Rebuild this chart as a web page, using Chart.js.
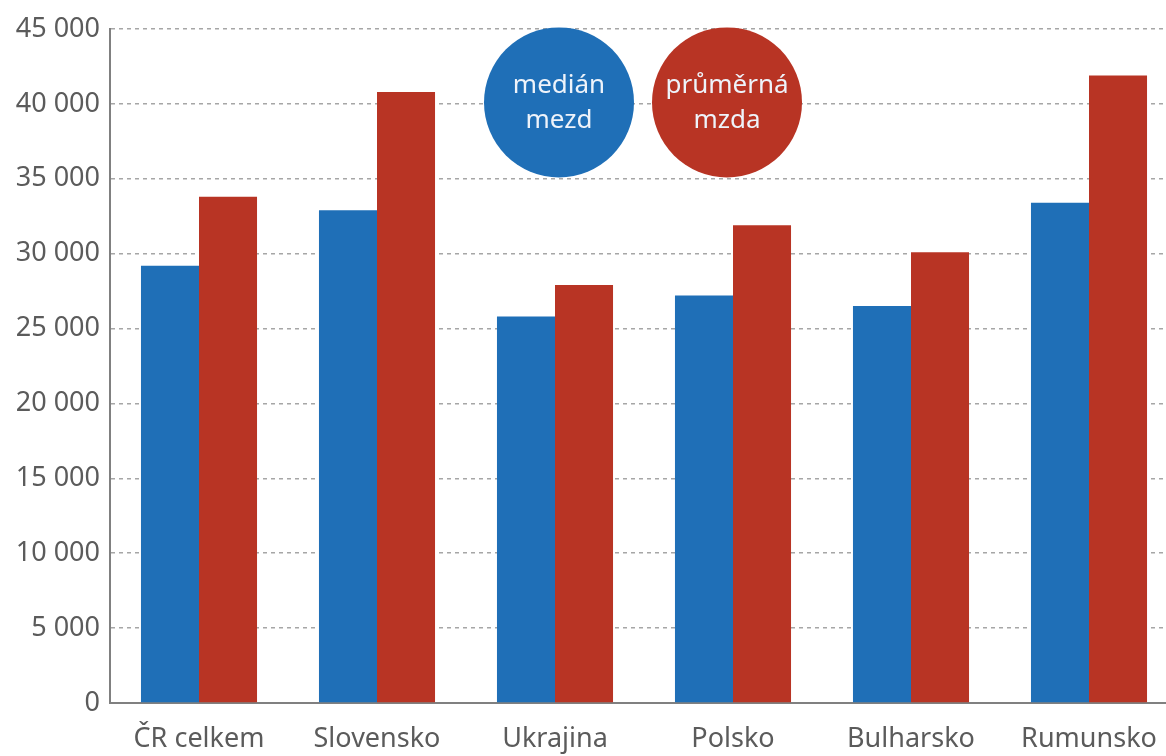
<!DOCTYPE html>
<html>
<head>
<meta charset="utf-8">
<script src="https://cdn.jsdelivr.net/npm/chart.js@4"></script>
<style>
    html, body { margin: 0; padding: 0; background: #fff; overflow: hidden; }
    #wrap { width: 1178px; height: 756px; position: relative; }
</style>
</head>
<body>
<div id="wrap"><canvas id="mzdyChart"></canvas></div>
<script>
// -----------------------------
//  DATA
// -----------------------------
const kategorie = ["ČR celkem", "Slovensko", "Ukrajina", "Polsko", "Bulharsko", "Rumunsko"];
const medianMezd = [29200, 32900, 25800, 27200, 26500, 33400];
const prumernaMzda = [33800, 40800, 27900, 31900, 30100, 41900];
const legendaMedian = ["medián", "mezd"];
const legendaPrumer = ["průměrná", "mzda"];

const MODRA = "#1f6fb7";
const CERVENA = "#b83424";
const TEXT = "#5b5b5b";
const FONT = "'Noto Sans', sans-serif";

// kolečka s legendou (nad Ukrajinou a Polskem)
const legendCircles = {
    id: "legendCircles",
    afterDraw(chart) {
        const ctx = chart.ctx;
        const x = chart.scales.x;
        const y = chart.scales.y;
        const r = 75;
        const cy = y.getPixelForValue(40100);
        const items = [
            { cx: x.getPixelForValue(2) + 4, color: MODRA, lines: legendaMedian },
            { cx: x.getPixelForValue(3) - 6, color: CERVENA, lines: legendaPrumer }
        ];
        ctx.save();
        items.forEach(it => {
            ctx.beginPath();
            ctx.arc(it.cx, cy, r, 0, Math.PI * 2);
            ctx.fillStyle = it.color;
            ctx.fill();
            ctx.fillStyle = "#eef3fa";
            ctx.font = "26px " + FONT;
            ctx.textAlign = "center";
            ctx.textBaseline = "middle";
            ctx.fillText(it.lines[0], it.cx, cy - 17);
            ctx.fillText(it.lines[1], it.cx, cy + 18);
        });
        ctx.restore();
    }
};

new Chart(document.getElementById("mzdyChart"), {
    type: "bar",
    data: {
        labels: kategorie,
        datasets: [
            { label: "medián mezd", data: medianMezd, backgroundColor: MODRA },
            { label: "průměrná mzda", data: prumernaMzda, backgroundColor: CERVENA }
        ]
    },
    options: {
        responsive: true,
        maintainAspectRatio: false,
        animation: false,
        layout: { padding: { top: 29, right: 0, bottom: 0, left: 0 } },
        datasets: { bar: { categoryPercentage: 0.652, barPercentage: 1 } },
        plugins: { legend: { display: false }, tooltip: { enabled: false } },
        scales: {
            x: {
                afterFit: s => { s.height = 53; },
                grid: { display: false, drawTicks: false },
                border: { color: "#808080", width: 2 },
                ticks: { color: TEXT, font: { family: FONT, size: 27 }, padding: 20, maxRotation: 0 }
            },
            y: {
                min: 0,
                max: 45000,
                afterFit: s => { s.width = 110; },
                grid: {
                    color: "#a6a6a6",
                    lineWidth: 1.5,
                    drawTicks: false
                },
                border: { color: "#808080", width: 2, dash: [4, 4] },
                ticks: {
                    stepSize: 5000,
                    color: TEXT,
                    padding: 10,
                    font: { family: FONT, size: 27 },
                    callback: v => v.toLocaleString("en-US").replace(",", " ")
                }
            }
        }
    },
    plugins: [legendCircles]
});
</script>
</body>
</html>
